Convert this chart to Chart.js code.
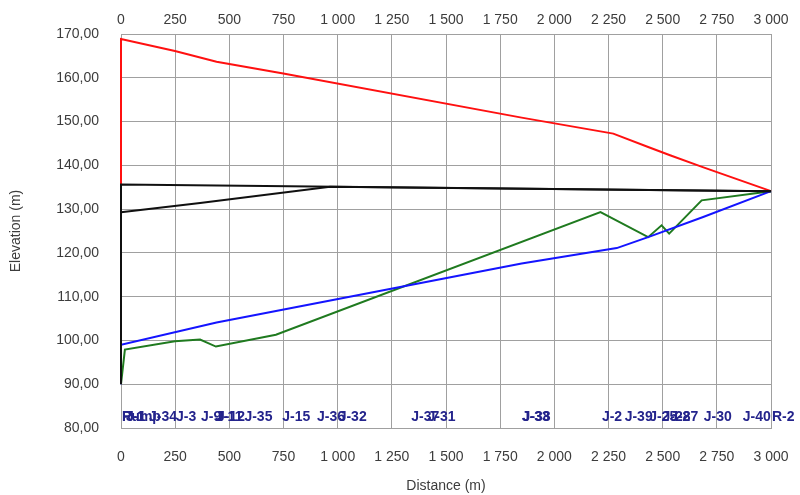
<!DOCTYPE html>
<html>
<head>
<meta charset="utf-8">
<script src="https://cdn.jsdelivr.net/npm/chart.js@4.4.1/dist/chart.umd.min.js"></script>
<style>
  html, body { margin: 0; padding: 0; background: #ffffff; }
  canvas { display: block; }
</style>
</head>
<body>
<canvas id="c" width="800" height="495"></canvas>
<script>
// ---- data (distance in m, elevation in m) ----
const redDist   = [0, 0, 249, 441, 749, 1849, 2272, 2433, 2534, 2685, 3000];
const redElev   = [129.3, 168.85, 166.1, 163.65, 161.0, 150.9, 147.25, 144.2, 142.3, 139.6, 134.1];

const blackTopDist = [0, 0, 3000];
const blackTopElev = [90.0, 135.6, 134.1];

const blackLowDist = [0, 365, 965, 3000];
const blackLowElev = [129.3, 131.4, 135.12, 134.1];

const blueDist  = [0, 0, 441, 1849, 2288, 2433, 2687, 3000];
const blueElev  = [90.0, 99.0, 104.1, 117.6, 121.1, 123.6, 128.2, 134.1];

const greenDist = [0, 18, 249, 365, 438, 715, 2213, 2433, 2495, 2530, 2680, 3000];
const greenElev = [90.0, 97.9, 99.8, 100.2, 98.6, 101.3, 129.3, 123.6, 126.3, 124.4, 132.0, 134.1];

const nodeNames = ["R-1", "Pump", "J-1", "J-34", "J-3", "J-9", "J-11", "J-12", "J-35", "J-15", "J-36", "J-32",
                   "J-37", "J-31", "J-33", "J-38", "J-2", "J-39", "J-25", "J-28", "J-27", "J-30", "J-40", "R-2"];
const nodeDist  = [0, 0, 18, 125, 249, 365, 430, 438, 565, 740, 900, 1000,
                   1335, 1410, 1845, 1849, 2215, 2320, 2433, 2495, 2530, 2685, 2865, 3000];

const xMin = 0, xMax = 3000, xStep = 250;
const yMin = 80, yMax = 170, yStep = 10;

function pts(xs, ys) { return xs.map((x, i) => ({ x: x, y: ys[i] })); }

function fmtX(v) {
  const s = Math.round(v).toString();
  return s.replace(/\B(?=(\d{3})+(?!\d))/g, ' ');
}
function fmtY(v) { return v.toFixed(2).replace('.', ','); }

const tickColor = '#3c3c3c';
const gridColor = '#a0a0a0';
const fontFamily = "'Liberation Sans', Arial, sans-serif";

const nodeLabelPlugin = {
  id: 'nodeLabels',
  afterDatasetsDraw(chart) {
    const ctx = chart.ctx;
    const xs = chart.scales.x;
    ctx.save();
    ctx.font = "bold 14px " + fontFamily;
    ctx.fillStyle = '#24248c';
    ctx.textAlign = 'left';
    ctx.textBaseline = 'middle';
    nodeNames.forEach((n, i) => {
      ctx.fillText(n, xs.getPixelForValue(nodeDist[i]) + 1, 417);
    });
    ctx.restore();
  }
};

const bgPlugin = {
  id: 'bg',
  beforeDraw(chart) {
    const ctx = chart.ctx;
    ctx.save();
    ctx.fillStyle = '#ffffff';
    ctx.fillRect(0, 0, chart.width, chart.height);
    ctx.restore();
  }
};

function ds(label, xs, ys, color, order) {
  return {
    label: label,
    data: pts(xs, ys),
    borderColor: color,
    backgroundColor: color,
    borderWidth: 2,
    pointRadius: 0,
    showLine: true,
    tension: 0,
    fill: false,
    clip: false,
    order: order
  };
}

new Chart(document.getElementById('c'), {
  type: 'scatter',
  data: {
    datasets: [
      ds('Red', redDist, redElev, '#ff1010', 4),
      ds('Green', greenDist, greenElev, '#1f7a1f', 3),
      ds('Blue', blueDist, blueElev, '#1414ff', 2),
      ds('BlackLow', blackLowDist, blackLowElev, '#101010', 1),
      ds('BlackTop', blackTopDist, blackTopElev, '#101010', 0)
    ]
  },
  options: {
    responsive: false,
    animation: false,
    devicePixelRatio: 1,
    layout: { padding: { left: 0, right: 29, top: 0, bottom: 0 } },
    plugins: { legend: { display: false }, tooltip: { enabled: false } },
    scales: {
      x: {
        type: 'linear', position: 'bottom',
        min: xMin, max: xMax,
        afterFit(s) { s.height = 67; s.paddingLeft = 0; s.paddingRight = 0; },
        ticks: { stepSize: xStep, callback: fmtX, padding: 20.6, color: tickColor,
                 font: { family: fontFamily, size: 14 }, maxRotation: 0, autoSkip: false },
        grid: { color: gridColor, lineWidth: 1, drawTicks: false },
        border: { display: true, color: gridColor },
        title: { display: true, text: 'Distance (m)', color: tickColor,
                 font: { family: fontFamily, size: 14 }, padding: { top: 0, bottom: 0 } }
      },
      x2: {
        type: 'linear', position: 'top',
        min: xMin, max: xMax,
        afterFit(s) { s.height = 34; s.paddingLeft = 0; s.paddingRight = 0; },
        ticks: { stepSize: xStep, callback: fmtX, padding: 5.6, color: tickColor,
                 font: { family: fontFamily, size: 14 }, maxRotation: 0, autoSkip: false },
        grid: { display: false, drawTicks: false },
        border: { display: true, color: gridColor }
      },
      y: {
        type: 'linear', position: 'left',
        min: yMin, max: yMax,
        afterFit(s) { s.width = 121; },
        ticks: { stepSize: yStep, callback: fmtY, padding: 22, color: tickColor,
                 font: { family: fontFamily, size: 14 } },
        grid: { color: gridColor, lineWidth: 1, drawTicks: false },
        border: { display: true, color: gridColor },
        title: { display: true, text: 'Elevation (m)', color: tickColor,
                 font: { family: fontFamily, size: 14 }, padding: { top: 8, bottom: 0 } }
      }
    }
  },
  plugins: [bgPlugin, nodeLabelPlugin]
});
</script>
</body>
</html>
